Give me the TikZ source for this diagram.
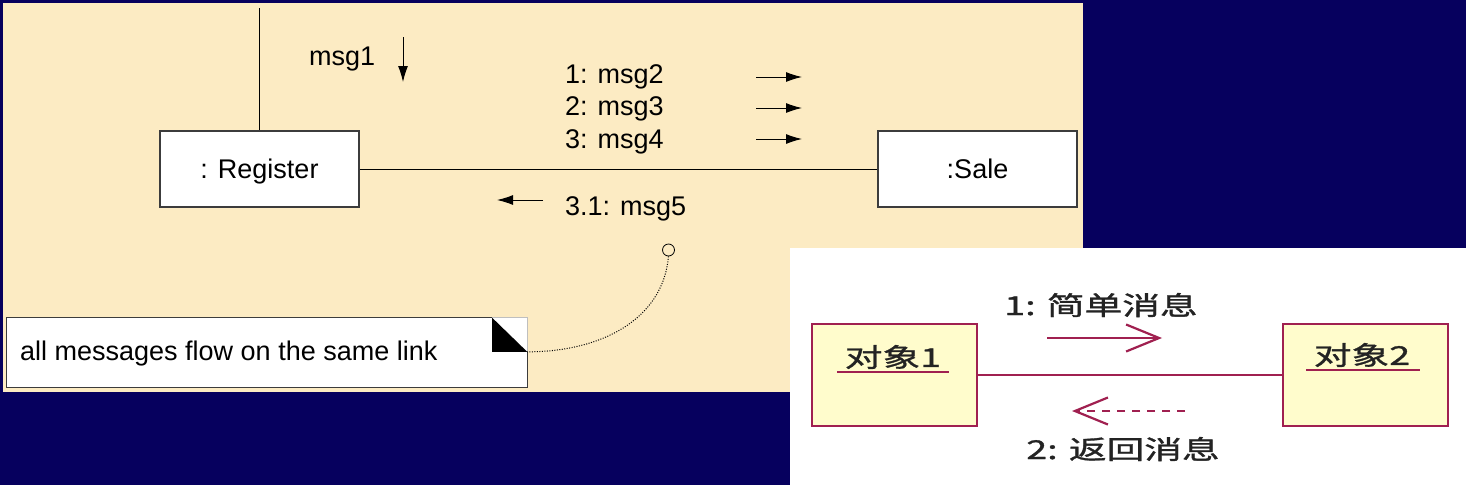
\documentclass[tikz,border=0pt]{standalone}
\usepackage{fontspec}
\setmainfont{Liberation Sans}
\newfontfamily\cjk[FakeStretch=1.45,FakeBold=1.2]{Noto Sans CJK SC}
\usetikzlibrary{arrows.meta,calc}
\definecolor{navybg}{RGB}{6,0,94}
\definecolor{beige}{RGB}{252,235,195}
\definecolor{boxgray}{RGB}{60,60,60}
\definecolor{maroon}{RGB}{160,32,80}
\definecolor{cjkyellow}{RGB}{255,252,204}
\definecolor{cjkgray}{RGB}{35,35,35}
\tikzset{
  en/.style={font=\fontsize{27pt}{32pt}\selectfont, text=black, inner sep=0pt, anchor=base west},
  obj/.style={draw=boxgray, line width=1.2pt, fill=white, minimum width=199pt, minimum height=76pt,
    inner sep=0pt, font=\fontsize{27pt}{32pt}\selectfont, text height=19.3pt, text depth=0pt},
  link/.style={draw=black, line width=1pt},
  msgarrow/.style={-{Latex[length=16pt,width=10pt]}, line width=1pt, black},
  notebg/.style={fill=white, draw=none, inner sep=0pt},
  noteline/.style={draw=boxgray, line width=1.2pt},
  notefold/.style={draw=black!25, line width=1pt},
  pinstyle/.style={draw=black, circle, minimum size=12pt, inner sep=0pt, line width=0.8pt, fill=beige},
  dotconn/.style={draw=black, line width=1pt, dash pattern=on 1pt off 1.5pt},
  cjkobj/.style={draw=maroon, line width=2.5pt, fill=cjkyellow, minimum width=165pt, minimum height=102pt, inner sep=0pt},
  cjklabel/.style={font=\cjk\fontsize{26pt}{30pt}\selectfont, text=cjkgray, inner sep=0pt},
  cjklink/.style={draw=maroon, line width=2.2pt},
  underl/.style={draw=maroon, line width=2.5pt},
  callarrow/.style={draw=maroon, line width=2.2pt, -{Straight Barb[length=33pt,width=27pt]}},
  retarrow/.style={callarrow, dash pattern=on 8pt off 7pt},
}
\begin{document}
\begin{tikzpicture}[x=1pt,y=-1pt]
\useasboundingbox (0,0) rectangle (1466,485);
\fill[navybg] (0,0) rectangle (1466,485);
\fill[beige] (3,3) rectangle (1083,392);
\fill[white] (790,248) rectangle (1466,485);

% --- English communication diagram ---
\node[obj] (reg) at (259.5,169) {: Register};
\node[obj] (sale) at (977.5,169) {:Sale};
\coordinate (top) at (259.5,8);
\draw[link] (top) -- (reg.north);
\draw[link] (reg.east) -- (sale.west);

\node[en] (msg1) at (309,65) {msg1};
\coordinate (m1s) at (403,37);
\coordinate (m1e) at (403,82);
\draw[msgarrow] (m1s) -- (m1e);

\node[en] (msg2) at (565,83) {1: msg2};
\node[en] (msg3) at (565,115) {2: msg3};
\node[en] (msg4) at (565,148) {3: msg4};
\node[en] (msg5) at (565,215) {3.1: msg5};
\coordinate (a2s) at (756,77);  \coordinate (a2e) at (802,77);
\coordinate (a3s) at (756,108); \coordinate (a3e) at (802,108);
\coordinate (a4s) at (756,139); \coordinate (a4e) at (802,139);
\coordinate (a5s) at (543,200); \coordinate (a5e) at (497,200);
\draw[msgarrow] (a2s) -- (a2e);
\draw[msgarrow] (a3s) -- (a3e);
\draw[msgarrow] (a4s) -- (a4e);
\draw[msgarrow] (a5s) -- (a5e);

% note
\node[notebg, minimum width=520pt, minimum height=69pt] (note) at (267,352.5) {};
\node[en] (notetext) at (20,360) {all messages flow on the same link};
\coordinate (foldA) at ($(note.north east)+(-35,0)$);
\coordinate (foldB) at ($(note.north east)+(-35,34)$);
\coordinate (notecorner) at ($(note.north east)+(0,34)$);
\draw[notefold] (foldA) -- (note.north east) -- (notecorner);
\draw[noteline] (foldA) -- (note.north west) -- (note.south west) -- (note.south east) -- (notecorner);
\fill[black] (foldA) -- (foldB) -- (notecorner) -- cycle;

\node[pinstyle] (pin) at (668.5,250) {};
\draw[dotconn] (pin.south) .. controls (663,320) and (600,352) .. (notecorner);

% --- Chinese diagram ---
\node[cjkobj] (o1) at (894.5,375) {};
\node[cjkobj] (o2) at (1365.5,375) {};
\draw[cjklink] (o1.east) -- (o2.west);
\node[cjklabel] (o1t) at (893,357) {对象1};
\node[cjklabel] (o2t) at (1362,355) {对象2};
\draw[underl] ($(o1t.center)+(-56,15)$) -- ($(o1t.center)+(56,15)$);
\draw[underl] ($(o2t.center)+(-56,15)$) -- ($(o2t.center)+(58,15)$);

\node[cjklabel] (c1) at (1101,305) {1: 简单消息};
\node[cjklabel] (c2) at (1123,449) {2: 返回消息};
\coordinate (c1s) at (1047,338); \coordinate (c1e) at (1162,338);
\coordinate (c2s) at (1185,411); \coordinate (c2e) at (1072,411);
\draw[callarrow] (c1s) -- (c1e);
\draw[retarrow] (c2s) -- (c2e);
\end{tikzpicture}
\end{document}
